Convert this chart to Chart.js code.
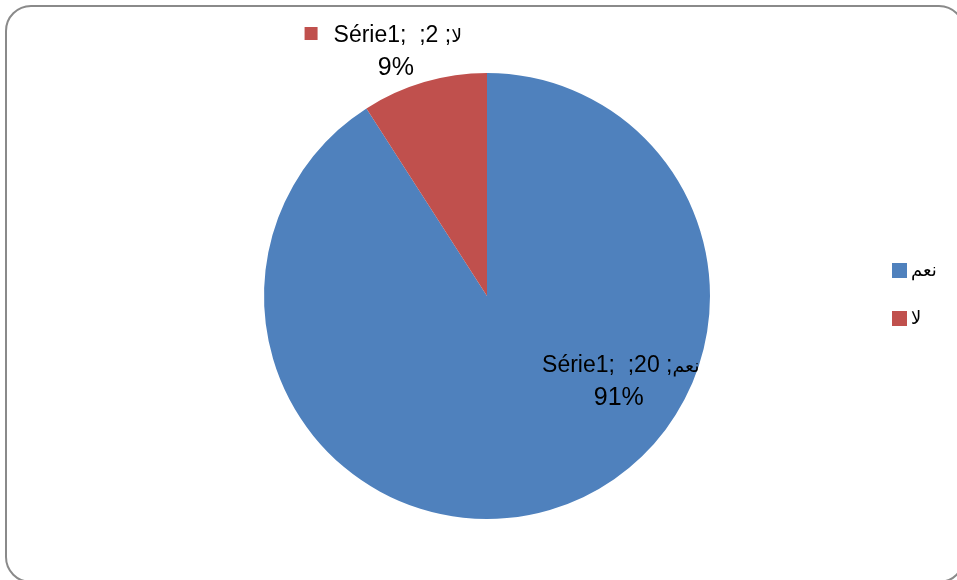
<!DOCTYPE html>
<html>
<head>
<meta charset="utf-8">
<script src="https://cdn.jsdelivr.net/npm/chart.js@4/dist/chart.umd.min.js"></script>
<style>
  html, body { margin: 0; padding: 0; overflow: hidden; background: #fff; }
  #wrap { position: relative; width: 957px; height: 580px; }
  #frame {
    position: absolute; left: 5px; top: 5px; width: 956px; height: 574px;
    border: 2px solid #8a8a8a; border-radius: 26px; pointer-events: none;
  }
</style>
</head>
<body>
<div id="wrap">
  <canvas id="pieChart" width="957" height="580"></canvas>
  <div id="frame"></div>
</div>
<script>
const categories = ['نعم', 'لا']
const seriesName = 'Série1'
const seriesValues = [20, 2]
const sliceColors = ['#4F81BD', '#C0504D']

// where each data label sits, as fractions of the pie radius from its centre
const labelSpots = [
  { fx: 0.60, fy: 0.341, key: false },
  { fx: -0.40, fy: -1.139, key: true }
]

const latinFont = '23px "Liberation Sans", Arial, sans-serif'
const arabicFont = '19px "DejaVu Sans", sans-serif'
const pctFont = '25px "Liberation Sans", Arial, sans-serif'

const sliceLabels = {
  id: 'sliceLabels',
  afterDatasetsDraw(chart) {
    const ctx = chart.ctx
    const meta = chart.getDatasetMeta(0)
    const data = chart.data.datasets[0].data
    const total = data.reduce((a, b) => a + b, 0)
    meta.data.forEach((arc, i) => {
      const p = arc.getProps(['x', 'y', 'outerRadius'], true)
      const spot = labelSpots[i]
      const cx = p.x + spot.fx * p.outerRadius
      const base = p.y + spot.fy * p.outerRadius
      const head = seriesName + ';  ;' + data[i] + ' ;'
      const word = chart.data.labels[i]
      ctx.save()
      ctx.fillStyle = '#000'
      ctx.textBaseline = 'alphabetic'
      ctx.textAlign = 'left'
      ctx.font = latinFont
      const w1 = ctx.measureText(head).width
      ctx.font = arabicFont
      const w2 = ctx.measureText(word).width
      let x = cx - (w1 + w2) / 2
      ctx.font = latinFont
      ctx.fillText(head, x, base)
      ctx.font = arabicFont
      ctx.direction = 'rtl'
      ctx.textAlign = 'right'
      ctx.fillText(word, x + w1 + w2, base)
      ctx.direction = 'ltr'
      if (spot.key) {
        ctx.fillStyle = sliceColors[i]
        ctx.fillRect(x - 29, base - 15, 13, 13)
        ctx.fillStyle = '#000'
      }
      ctx.font = pctFont
      ctx.textAlign = 'center'
      ctx.fillText(Math.round(data[i] / total * 100) + '%', cx - 2, base + 33)
      ctx.restore()
    })
  }
}

// legend on the right, one row per category
const sideLegend = {
  id: 'sideLegend',
  afterDraw(chart) {
    const ctx = chart.ctx
    ctx.save()
    chart.data.labels.forEach((lab, i) => {
      const y = 271 + i * 48
      ctx.fillStyle = sliceColors[i]
      ctx.fillRect(892, y - 8, 15, 15)
      ctx.fillStyle = '#000'
      ctx.font = '18px "DejaVu Sans", sans-serif'
      ctx.textBaseline = 'middle'
      ctx.textAlign = 'left'
      ctx.direction = 'ltr'
      ctx.fillText(lab, 911, y)
    })
    ctx.restore()
  }
}

const pieChart = new Chart(document.getElementById('pieChart').getContext('2d'), {
  type: 'pie',
  data: {
    labels: categories,
    datasets: [{
      label: seriesName,
      data: seriesValues,
      backgroundColor: sliceColors,
      borderWidth: 0
    }]
  },
  options: {
    responsive: false,
    animation: false,
    layout: { padding: { left: 264, right: 247, top: 73, bottom: 61 } },
    plugins: {
      legend: { display: false },
      tooltip: { enabled: false }
    }
  },
  plugins: [sliceLabels, sideLegend]
})
</script>
</body>
</html>
